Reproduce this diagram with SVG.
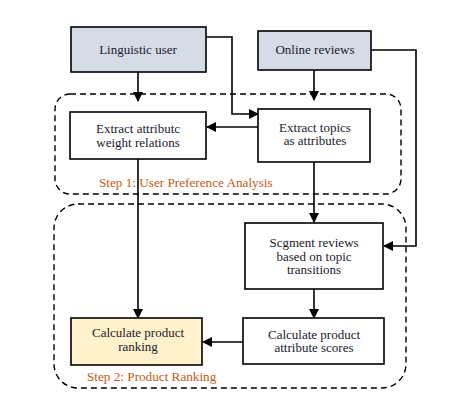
<svg xmlns="http://www.w3.org/2000/svg" width="470" height="402" viewBox="0 0 470 402">
<style>
.box{stroke:#000;stroke-width:1.6;fill:#fff}
.in{fill:#d6dce5}
.rank{fill:#fff2cc}
.grp{fill:none;stroke:#000;stroke-width:1.4;stroke-dasharray:6 4}
.t{font-family:"Liberation Serif",serif;font-size:13px;fill:#1a1a2e;text-anchor:middle}
.step{font-family:"Liberation Serif",serif;font-size:13.2px;fill:#c55a11}
.c{fill:none;stroke:#000;stroke-width:1.6}
</style>
<defs>
<marker id="a" markerWidth="10" markerHeight="10" refX="9" refY="5" orient="auto" markerUnits="userSpaceOnUse">
<path d="M0,0 L10,5 L0,10 z" fill="#000"/>
</marker>
</defs>
<rect width="470" height="402" fill="#fff"/>
<g id="groups">
<rect class="grp" x="55" y="94" width="346" height="100" rx="15"/>
<rect class="grp" x="54" y="204" width="352" height="184" rx="24"/>
<text class="step" x="99" y="187">Step 1: User Preference Analysis</text>
<text class="step" x="87" y="381">Step 2: Product Ranking</text>
</g>
<g id="connectors">
<path class="c" d="M138,72 V101" marker-end="url(#a)"/>
<path class="c" d="M314,70 V100" marker-end="url(#a)"/>
<path class="c" d="M206,37 H232 V114 H258" marker-end="url(#a)"/>
<path class="c" d="M258,127 H207" marker-end="url(#a)"/>
<path class="c" d="M371,50 H416 V246 H384" marker-end="url(#a)"/>
<path class="c" d="M314,162 V222" marker-end="url(#a)"/>
<path class="c" d="M138,159 V318" marker-end="url(#a)"/>
<path class="c" d="M314,289 V318" marker-end="url(#a)"/>
<path class="c" d="M243,342 H203" marker-end="url(#a)"/>
</g>
<g id="linguistic-user">
<rect class="box in" x="71" y="27" width="135" height="45"/>
<text class="t" x="138" y="53.5">Linguistic user</text>
</g>
<g id="online-reviews">
<rect class="box in" x="258" y="31" width="113" height="39"/>
<text class="t" x="315" y="53.5">Online reviews</text>
</g>
<g id="extract-weight">
<rect class="box" x="70" y="112" width="136" height="47"/>
<text class="t" x="138" y="133">Extract attributc</text>
<text class="t" x="138" y="147">weight relations</text>
</g>
<g id="extract-topics">
<rect class="box" x="258" y="109" width="112" height="53"/>
<text class="t" x="315" y="131.5">Extract topics</text>
<text class="t" x="315" y="145">as attributes</text>
</g>
<g id="segment-reviews">
<rect class="box" x="245" y="223" width="138" height="66"/>
<text class="t" x="314" y="247">Scgment reviews</text>
<text class="t" x="314" y="260.5">based on topic</text>
<text class="t" x="314" y="274">transitions</text>
</g>
<g id="attribute-scores">
<rect class="box" x="243" y="318" width="141" height="46"/>
<text class="t" x="314" y="338.5">Calculate product</text>
<text class="t" x="314" y="352">attribute scores</text>
</g>
<g id="product-ranking">
<rect class="box rank" x="71" y="318" width="131" height="47"/>
<text class="t" x="138" y="337">Calculate product</text>
<text class="t" x="138" y="351">ranking</text>
</g>
</svg>
